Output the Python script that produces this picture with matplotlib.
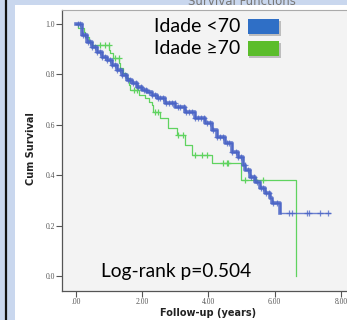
import numpy as np
import matplotlib
matplotlib.use('Agg')
from matplotlib import pyplot as plt
from matplotlib.patches import Rectangle
from matplotlib.lines import Line2D

# Kaplan-Meier curves (years, cumulative survival)
young_time = [0, 0.18, 0.33, 0.48, 0.63, 0.79, 0.94, 1.09, 1.24, 1.39, 1.54, 1.69, 1.84, 1.99,
              2.14, 2.30, 2.45, 2.69, 2.99, 3.29, 3.60, 3.90, 4.10, 4.25, 4.50, 4.70, 4.90,
              5.05, 5.11, 5.26, 5.41, 5.56, 5.71, 5.86, 5.91, 6.16, 7.67]
young_surv = [1.0, 0.956, 0.930, 0.910, 0.890, 0.870, 0.857, 0.837, 0.817, 0.798, 0.778, 0.765,
              0.751, 0.738, 0.731, 0.718, 0.705, 0.688, 0.672, 0.652, 0.626, 0.606, 0.579, 0.553,
              0.527, 0.493, 0.473, 0.44, 0.42, 0.394, 0.374, 0.348, 0.328, 0.308, 0.288, 0.251, 0.251]
young_censored = [0.05, 0.12, 0.2, 0.27, 0.35, 0.42, 0.5, 0.57, 0.64, 0.72, 0.8, 0.87, 0.95, 1.02,
                  1.1, 1.18, 1.25, 1.33, 1.4, 1.48, 1.56, 1.63, 1.71, 1.8, 1.88, 1.96, 2.05, 2.13,
                  2.22, 2.3, 2.38, 2.47, 2.55, 2.64, 2.72, 2.8, 2.9, 2.98, 3.07, 3.15, 3.25, 3.33,
                  3.42, 3.52, 3.6, 3.7, 3.78, 3.88, 3.97, 4.05, 4.15, 4.25, 4.35, 4.45, 4.55, 4.62,
                  4.72, 4.82, 4.9, 5.0, 5.1, 5.2, 5.3, 5.38, 5.48, 5.58, 5.66, 5.75, 5.82, 5.95,
                  6.06, 6.44, 6.52, 6.97, 7.05, 7.37, 7.62]

old_time = [0, 0.06, 0.24, 0.28, 0.38, 0.48, 1.0, 1.04, 1.12, 1.30, 1.34, 1.43, 1.51, 1.59, 1.63,
            1.89, 2.08, 2.2, 2.29, 2.33, 2.54, 2.78, 3.04, 3.29, 3.5, 4.12, 4.98, 6.66]
old_surv = [1.0, 0.983, 0.966, 0.95, 0.93, 0.917, 0.897, 0.885, 0.864, 0.844, 0.825, 0.805, 0.786,
            0.758, 0.738, 0.718, 0.705, 0.692, 0.679, 0.652, 0.626, 0.586, 0.56, 0.52, 0.48,
            0.447, 0.381, 0.0]
old_censored = [0.73, 0.89, 0.99, 1.19, 1.29, 1.74, 1.84, 2.39, 2.49, 3.09, 3.24, 3.6, 3.8, 3.95,
                4.45, 4.55, 4.6, 5.1, 5.44, 5.65]

x_ticks = [0, 2, 4, 6, 8]
x_tick_labels = ['.00', '2.00', '4.00', '6.00', '8.00']
y_ticks = [0.0, 0.2, 0.4, 0.6, 0.8, 1.0]
y_tick_labels = ['0.0', '0.2', '0.4', '0.6', '0.8', '1.0']

BLUE = '#4a64c6'
GREEN = '#5fd35f'
W, H = 347, 320


def surv_at(times, surv, t):
    idx = np.searchsorted(times, t, side='right') - 1
    return np.array(surv)[idx]


fig = plt.figure(figsize=(W / 100, H / 100), dpi=100)
fig.patch.set_facecolor('#c9d7ee')
fig.patches.append(Rectangle((15 / W, 0), 1, 1 - 5 / H, transform=fig.transFigure,
                             facecolor='white', edgecolor='none', zorder=-2))
fig.lines.append(Line2D([6 / W, 6 / W], [0, 1], transform=fig.transFigure,
                        color='#111111', lw=1.6, zorder=-1))

ax = fig.add_axes([61.7 / W, 1 - 290.7 / H, 299 / W, 280.4 / H])
ax.set_zorder(1)
ax.set_facecolor('#f3f3f3')
ax.set_xlim(-0.43, 8.6)
ax.set_ylim(-0.058, 1.054)

ax.step(old_time, old_surv, where='post', color=GREEN, lw=0.9, zorder=2)
ax.plot(old_censored, surv_at(old_time, old_surv, old_censored), '+', color=GREEN,
        ms=4, mew=0.9, zorder=2)
young_line_end = 6.2
ax.step([t for t in young_time if t <= young_line_end],
        young_surv[:len([t for t in young_time if t <= young_line_end])],
        where='post', color=BLUE, lw=2.6, alpha=0.85, zorder=3, solid_joinstyle='round')
ax.step(young_time, young_surv, where='post', color=BLUE, lw=1.0, alpha=0.8, zorder=3)
ax.plot(young_censored, surv_at(young_time, young_surv, young_censored), '+', color=BLUE,
        ms=4.5, mew=0.9, alpha=0.75, zorder=3)

ax.set_xticks(x_ticks)
ax.set_xticklabels(x_tick_labels)
ax.set_yticks(y_ticks)
ax.set_yticklabels(y_tick_labels)
ax.tick_params(length=4, width=0.8, color='#555555', labelsize=5.5, labelcolor='#555555', pad=1)
for lab in ax.get_xticklabels() + ax.get_yticklabels():
    lab.set_family('Liberation Serif')
for side in ['left', 'bottom']:
    ax.spines[side].set_color('#555555')
    ax.spines[side].set_linewidth(0.9)
ax.spines['top'].set_color('#aaaaaa')
ax.spines['top'].set_linewidth(0.8)
ax.spines['right'].set_visible(False)

# texts
fig.text(242 / W, 1 - 5 / H, 'Survival Functions', ha='center', va='baseline',
         fontsize=8.5, color='#777777', zorder=3)
fig.text(31 / W, 1 - 149 / H, 'Cum Survival', rotation=90, ha='center', va='center',
         fontsize=7, fontweight='bold', color='#222222')
fig.text(208 / W, 1 - 313 / H, 'Follow-up (years)', ha='center', va='center',
         fontsize=7, fontweight='bold', color='#222222')
fig.text(101 / W, 1 - 277 / H, 'Log-rank p=0.504', ha='left', va='baseline',
         fontsize=13.8, family='Lato', color='black', zorder=5)

# legend drawn by hand, like the slide
legend = [('Idade <70', '#2f6fc6', 26), ('Idade \u226570', '#5bbd2b', 48)]
for label, col, yc in legend:
    fig.text(240 / W, 1 - yc / H, label, ha='right', va='center', fontsize=14,
             family='Lato', color='black', zorder=5)
    fig.patches.append(Rectangle((249.5 / W, 1 - (yc + 9.5) / H), 31 / W, 15 / H,
                                 transform=fig.transFigure, facecolor='#888888',
                                 edgecolor='none', alpha=0.5, zorder=4))
    fig.patches.append(Rectangle((248 / W, 1 - (yc + 8) / H), 31 / W, 15 / H,
                                 transform=fig.transFigure, facecolor=col,
                                 edgecolor='none', zorder=5))

plt.savefig('out.png', dpi=100)
plt.close(fig)
